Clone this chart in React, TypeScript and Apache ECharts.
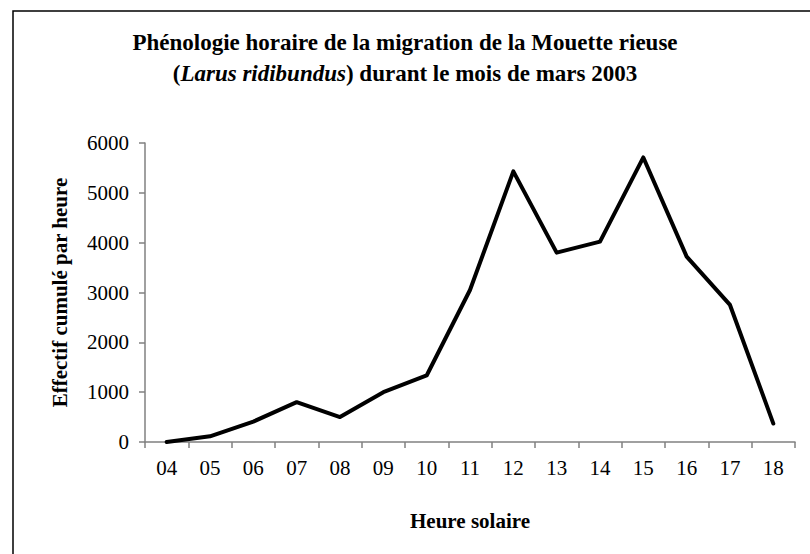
import React, { useEffect, useRef } from "react";
import * as echarts from "echarts";

const hours = ["04", "05", "06", "07", "08", "09", "10", "11", "12", "13", "14", "15", "16", "17", "18"];
const counts = [0, 115, 410, 800, 500, 1000, 1335, 3050, 5430, 3800, 4020, 5710, 3720, 2750, 370];
const yTicks = { min: 0, max: 6000, interval: 1000 };

const titleLine1 = "Phénologie horaire de la migration de la Mouette rieuse";
const titleItalic = "Larus ridibundus";
const titleLine2 = " durant le mois de mars 2003";
const yName = "Effectif cumulé par heure";
const xName = "Heure solaire";

const FONT = "'Liberation Serif', 'Times New Roman', serif";

export default function App() {
  const ref = useRef<HTMLDivElement>(null);
  useEffect(() => {
    document.body.style.margin = "0";
    if (!ref.current) return;
    const chart = echarts.init(ref.current, undefined, { renderer: "svg" });
    chart.setOption({
      animation: false,
      backgroundColor: "#ffffff",
      title: {
        text: `{b|${titleLine1}}\n{b|(}{i|${titleItalic}}{b|)${titleLine2}}`,
        left: "center",
        top: 22,
        textStyle: {
          rich: {
            b: { fontFamily: FONT, fontWeight: "bold", fontSize: 23, color: "#000", lineHeight: 31 },
            i: { fontFamily: FONT, fontWeight: "bold", fontStyle: "italic", fontSize: 23, color: "#000", lineHeight: 31 },
          },
        },
      },
      graphic: [
        {
          type: "rect",
          shape: { x: 13, y: 11, width: 820, height: 570 },
          style: { fill: "none", stroke: "#000", lineWidth: 1.5 },
          silent: true,
        },
      ],
      grid: { left: 145, right: 15, top: 143, bottom: 112, containLabel: false },
      xAxis: {
        type: "category",
        data: hours,
        boundaryGap: true,
        name: xName,
        nameLocation: "middle",
        nameGap: 68,
        nameTextStyle: { fontFamily: FONT, fontWeight: "bold", fontSize: 21, color: "#000" },
        axisLine: { lineStyle: { color: "#808080", width: 1.5 } },
        axisTick: { show: true, alignWithLabel: false, length: 6, inside: false, lineStyle: { color: "#808080", width: 1.5 } },
        axisLabel: { fontFamily: FONT, fontSize: 21, color: "#000", margin: 15 },
        splitLine: { show: false },
      },
      yAxis: {
        type: "value",
        min: yTicks.min,
        max: yTicks.max,
        interval: yTicks.interval,
        name: yName,
        nameLocation: "middle",
        nameGap: 75,
        nameRotate: 90,
        nameTextStyle: { fontFamily: FONT, fontWeight: "bold", fontSize: 21, color: "#000" },
        axisLine: { show: true, lineStyle: { color: "#808080", width: 1.5 } },
        axisTick: { show: true, length: 6, lineStyle: { color: "#808080", width: 1.5 } },
        axisLabel: { fontFamily: FONT, fontSize: 21, color: "#000", margin: 16, formatter: (v: number) => String(v) },
        splitLine: { show: false },
      },
      series: [
        {
          type: "line",
          data: counts,
          showSymbol: false,
          symbol: "none",
          lineStyle: { color: "#000", width: 4, join: "round", cap: "round" },
        },
      ],
    });
    return () => chart.dispose();
  }, []);
  return <div ref={ref} style={{ width: 810, height: 554 }} />;
}
